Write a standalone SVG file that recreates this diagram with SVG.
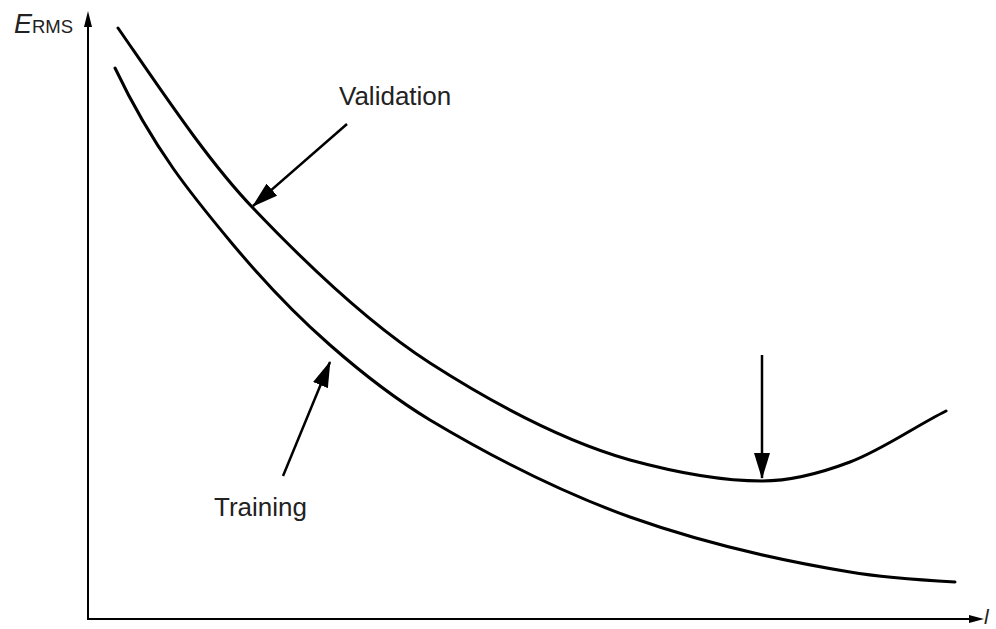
<svg xmlns="http://www.w3.org/2000/svg" width="996" height="629" viewBox="0 0 996 629">
<style>
  .axis { stroke:#000; stroke-width:2; fill:none; }
  .curve { stroke:#000; stroke-width:3; fill:none; stroke-linecap:round; }
  .ptr { stroke:#000; stroke-width:2.5; fill:none; }
  .lbl { font-family:"Liberation Sans", Arial, sans-serif; fill:#222; }
  .name { font-size:26px; }
  .sym { font-size:27px; font-style:italic; }
  .sub { font-size:18.5px; }
</style>
<defs>
  <marker id="big" viewBox="0 0 26 16" refX="25" refY="8" markerWidth="26" markerHeight="16" markerUnits="userSpaceOnUse" orient="auto">
    <path d="M0,0 L26,8 L0,16 z" fill="#000"/>
  </marker>
</defs>
<g id="axes">
  <line class="axis" x1="88" y1="620" x2="88" y2="26"/>
  <path d="M88,11 L84,27 L92,27 z" fill="#000"/>
  <line class="axis" x1="87" y1="619" x2="970" y2="619"/>
  <path d="M984,619 L969,615 L969,623 z" fill="#000"/>
  <text class="lbl sym" x="14" y="33">E</text>
  <text class="lbl sub" x="32" y="33">RMS</text>
  <text class="lbl sym" x="984" y="624" style="font-size:21px">l</text>
</g>
<g id="validation">
  <path class="curve" d="M118,28 C163,93 208,161 253,208 C312,270 371,325 430,363 C497,406 563,441 630,460 C674,472 718,481 762,481 C791,481 821,473 850,462 C882,450 914,427 946,411"/>
</g>
<g id="training">
  <path class="curve" d="M115,68 C155,152 195,199 235,247 C267,285 298,317 330,345 C363,374 397,400 430,420 C497,460 563,493 630,517 C703,543 777,560 850,572 C885,578 920,580 955,582"/>
</g>
<g id="labels">
  <text class="lbl name" x="339" y="105">Validation</text>
  <text class="lbl name" x="214" y="516">Training</text>
</g>
<g id="connectors">
  <line class="ptr" x1="347" y1="124" x2="253" y2="206" marker-end="url(#big)"/>
  <line class="ptr" x1="283" y1="476" x2="330" y2="362" marker-end="url(#big)"/>
  <line class="ptr" x1="762" y1="355" x2="762" y2="478" marker-end="url(#big)"/>
</g>
</svg>
